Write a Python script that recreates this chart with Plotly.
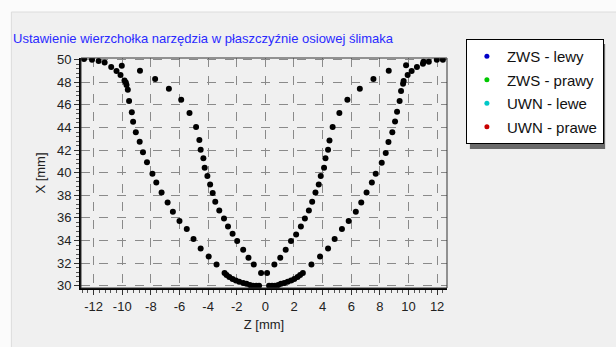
import plotly.graph_objects as go

# ---- data (Z [mm], X [mm]) ----
zws_lewy_z = [-12.67, -12.11, -11.65, -11.23, -10.77, -10.40, -10.12, -9.84, -9.75, -9.70,
              -9.61, -9.52, -9.33, -9.24, -9.05, -8.78, -8.55, -8.27, -7.89, -7.62,
              -7.25, -6.83, -6.46, -6.00, -5.49, -5.02, -4.52, -3.96, -3.41,
              -2.85, -2.71, -2.52, -2.29, -2.06, -1.83, -1.55, -1.32, -1.08, -0.85, -0.63, -0.44]
zws_lewy_x = [50.06, 50.00, 49.89, 49.76, 49.35, 49.00, 48.65, 48.17, 47.99, 47.76,
              47.35, 46.35, 45.34, 44.51, 43.57, 42.74, 41.80, 40.93, 39.91, 39.14,
              38.26, 37.37, 36.55, 35.73, 35.02, 34.13, 33.30, 32.59, 31.88,
              31.12, 30.95, 30.77, 30.59, 30.47, 30.35, 30.24, 30.18, 30.06, 30.00, 30.00, 30.00]

zws_prawy_z = [0.26, 0.47, 0.67, 0.90, 1.09, 1.32, 1.56, 1.79, 2.02, 2.25, 2.43, 2.62,
               3.22, 3.82, 4.38, 4.84, 5.35, 5.82, 6.32, 6.70, 7.07, 7.44, 7.71, 8.13,
               8.41, 8.60, 8.87, 9.06, 9.20, 9.38, 9.48, 9.62, 9.66, 9.94, 10.22, 10.59,
               11.01, 11.05, 11.42, 11.98, 12.40]
zws_prawy_x = [30.00, 30.00, 30.00, 30.06, 30.18, 30.24, 30.35, 30.47, 30.59, 30.77, 30.95, 31.12,
               31.88, 32.59, 33.30, 34.13, 35.02, 35.73, 36.55, 37.37, 38.26, 39.14, 39.91, 40.88,
               41.74, 42.72, 43.57, 44.54, 45.40, 46.35, 47.23, 47.88, 48.12, 48.65, 49.00, 49.35,
               49.65, 49.82, 49.82, 50.00, 50.00]

uwn_lewe_z = [-10.03, -8.76, -7.70, -6.74, -5.88, -5.30, -4.84, -4.61, -4.52, -4.33,
              -4.24, -4.05, -3.86, -3.68, -3.50, -3.22, -2.89, -2.61, -2.29, -1.97,
              -1.55, -1.18, -0.81, -0.30]
uwn_lewe_x = [49.47, 49.03, 48.29, 47.43, 46.46, 45.28, 44.04, 42.89, 42.04, 41.27,
              40.44, 39.71, 38.96, 38.20, 37.43, 36.66, 35.96, 35.25, 34.60, 33.96,
              33.19, 32.48, 31.88, 31.12]

uwn_prawe_z = [0.12, 0.63, 1.04, 1.42, 1.79, 2.15, 2.48, 2.76, 3.04, 3.27, 3.50, 3.73,
               3.87, 4.10, 4.20, 4.38, 4.48, 4.70, 5.17, 5.73, 6.60, 7.55, 8.62, 9.83]
uwn_prawe_x = [31.12, 31.88, 32.48, 33.19, 33.96, 34.54, 35.25, 35.96, 36.66, 37.43, 38.26, 38.96,
               39.71, 40.44, 41.27, 42.04, 42.86, 44.04, 45.28, 46.46, 47.43, 48.29, 49.03, 49.50]

series_names = ["ZWS - lewy", "ZWS - prawy", "UWN - lewe", "UWN - prawe"]
legend_colors = ["#0000c8", "#00c800", "#00c8c8", "#c80000"]
series_z = [zws_lewy_z, zws_prawy_z, uwn_lewe_z, uwn_prawe_z]
series_x = [zws_lewy_x, zws_prawy_x, uwn_lewe_x, uwn_prawe_x]

x_ticks = list(range(-12, 13, 2))
y_ticks = list(range(30, 51, 2))

FONT = "Liberation Sans, Arial, sans-serif"

fig = go.Figure()
for name, zs, xs in zip(series_names, series_z, series_x):
    fig.add_trace(go.Scatter(x=zs, y=xs, mode="markers", name=name, showlegend=False,
                             marker=dict(color="black", size=6), hoverinfo="skip"))
for i, (name, col) in enumerate(zip(series_names, legend_colors)):
    fig.add_trace(go.Scatter(x=[None], y=[None], mode="markers", name=name,
                             legendgroup=f"g{i}",
                             marker=dict(color=col, size=5)))

W, H = 616, 347
L, R, T, B = 81, 167, 58, 59
pw, ph = W - L - R, H - T - B

def px_x(p):
    return (p - L) / pw

def px_y(p):
    return (H - B - p) / ph

shapes = [
    # outer panel
    dict(type="rect", xref="paper", yref="paper", layer="below",
         x0=px_x(11), x1=px_x(W + 5), y0=px_y(H + 5), y1=px_y(12),
         fillcolor="#f0f0f0", line=dict(color="#dcdcdc", width=1)),
    # plot frame
    dict(type="rect", xref="paper", yref="paper", layer="above",
         x0=0, x1=1, y0=0, y1=1, line=dict(color="#333333", width=1)),
    # legend shadow
    dict(type="rect", xref="paper", yref="paper", layer="above",
         x0=px_x(472), x1=px_x(608), y0=px_y(149), y1=px_y(44),
         fillcolor="#6a6a6a", line=dict(width=0)),
]

fig.update_layout(
    width=W, height=H,
    margin=dict(l=L, r=R, t=T, b=B, pad=0),
    paper_bgcolor="#fbfbfb",
    plot_bgcolor="#f0f0f0",
    font=dict(family=FONT, size=12, color="#222222"),
    title=dict(text="Ustawienie wierzchołka narzędzia w płaszczyźnie osiowej ślimaka",
               x=13 / W, xanchor="left", y=1 - 38 / H, yanchor="middle",
               font=dict(family=FONT, size=13, color="#2a2aff")),
    showlegend=True,
    legend=dict(x=px_x(468), y=px_y(39), xanchor="left", yanchor="top",
                bgcolor="white", bordercolor="black", borderwidth=1,
                font=dict(family=FONT, size=15, color="#111111"),
                itemwidth=30, tracegroupgap=1),
    shapes=shapes,
)

fig.update_xaxes(range=[-12.88, 12.69], tickmode="array", tickvals=x_ticks,
                 ticktext=[str(v) for v in x_ticks], automargin=False,
                 showgrid=True, gridcolor="#8a8a8a", griddash="dash", gridwidth=1,
                 zeroline=False, showline=True, linecolor="black", linewidth=2,
                 ticks="outside", ticklen=5, tickcolor="#333333",
                 minor=dict(ticks="outside", dtick=0.4, tick0=0, ticklen=3,
                            tickcolor="#555555", showgrid=False),
                 title=dict(text="Z [mm]", standoff=7, font=dict(size=13)),
                 tickfont=dict(size=13))
fig.update_yaxes(range=[29.8, 50.15], tickmode="array", tickvals=y_ticks,
                 ticktext=[str(v) for v in y_ticks], automargin=False,
                 showgrid=True, gridcolor="#8a8a8a", griddash="dash", gridwidth=1,
                 zeroline=False, showline=True, linecolor="black", linewidth=2,
                 ticks="outside", ticklen=5, tickcolor="#333333",
                 minor=dict(ticks="outside", dtick=0.4, tick0=30, ticklen=3,
                            tickcolor="#555555", showgrid=False),
                 title=dict(text="X [mm]", standoff=8, font=dict(size=13)),
                 tickfont=dict(size=13))

fig.write_html("out.html", config={"displayModeBar": False})

# remove default browser body margin so the figure sits at the window origin
with open("out.html", "r", encoding="utf-8") as f:
    html = f.read()
html = html.replace("<head>", "<head><style>html,body{margin:0;padding:0;overflow:hidden;}</style>", 1)
with open("out.html", "w", encoding="utf-8") as f:
    f.write(html)
